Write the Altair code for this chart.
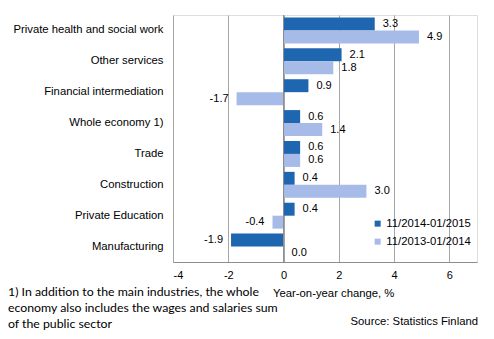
import altair as alt
import pandas as pd

categories = ["Private health and social work", "Other services", "Financial intermediation",
              "Whole economy 1)", "Trade", "Construction", "Private Education", "Manufacturing"]
series = ["11/2014-01/2015", "11/2013-01/2014"]
values_2015 = [3.3, 2.1, 0.9, 0.6, 0.6, 0.4, 0.4, -1.9]
values_2014 = [4.9, 1.8, -1.7, 1.4, 0.6, 3.0, -0.4, 0.0]
colors = ["#1f66b0", "#a7bbe8"]
x_ticks = [-4, -2, 0, 2, 4, 6]

rows = []
for c, v in zip(categories, values_2015):
    rows.append({"cat": c, "series": series[0], "value": v, "label": f"{v:.1f}"})
for c, v in zip(categories, values_2014):
    rows.append({"cat": c, "series": series[1], "value": v, "label": f"{v:.1f}"})
df = pd.DataFrame(rows)

W, H = 304, 247
LEFT, TOP = 173, 15

ysc = alt.Y("cat:N", sort=categories, title=None,
            scale=alt.Scale(paddingInner=0.16, paddingOuter=0.08),
            axis=alt.Axis(domain=False, ticks=False, labelPadding=10, labelFontSize=11.3,
                          labelColor="#000000", labelFont="Liberation Sans", labelLimit=200))
yoff = alt.YOffset("series:N", sort=series, scale=alt.Scale(paddingInner=0, paddingOuter=0))
xsc = alt.X("value:Q", title=None,
            scale=alt.Scale(domain=[-4, 7], nice=False),
            axis=alt.Axis(values=x_ticks, labelExpr="datum.value + ''", grid=True,
                          gridColor="#a6a6a6", domainColor="#8c8c8c", tickSize=0,
                          labelPadding=7, labelFontSize=11, labelColor="#000000",
                          labelFont="Liberation Sans"))

base = alt.Chart(df)

bars = base.mark_bar().encode(
    x=xsc, y=ysc, yOffset=yoff,
    color=alt.Color("series:N", sort=series,
                    scale=alt.Scale(domain=series, range=colors),
                    legend=alt.Legend(title=None, orient="none", legendX=199, legendY=203,
                                      symbolType="square", symbolSize=36, labelFontSize=11.3,
                                      labelFont="Liberation Sans", labelColor="#000000",
                                      rowPadding=6, symbolStrokeWidth=0, labelOffset=3)),
)

pos_labels = base.transform_filter("datum.value >= 0").mark_text(
    align="left", dx=8, fontSize=11, font="Liberation Sans", color="#000000"
).encode(x="value:Q", y=alt.Y("cat:N", sort=categories), yOffset=yoff, text="label:N")

neg_labels = base.transform_filter("datum.value < 0").mark_text(
    align="right", dx=-8, fontSize=11, font="Liberation Sans", color="#000000"
).encode(x="value:Q", y=alt.Y("cat:N", sort=categories), yOffset=yoff, text="label:N")

zero_rule = alt.Chart(pd.DataFrame({"z": [0]})).mark_rule(color="#8c8c8c").encode(
    x="z:Q", y=alt.value(0), y2=alt.value(H))

footnote = "1) In addition to the  main industries, the whole\neconomy also includes the wages and salaries sum\nof the public sector"
foot = alt.Chart(pd.DataFrame({"t": [footnote]})).mark_text(
    align="left", baseline="top", lineBreak="\n", lineHeight=16, fontSize=12.3,
    font="Lato", color="#000000"
).encode(x=alt.value(8 - LEFT), y=alt.value(286 - TOP), text="t:N")

xtitle = alt.Chart(pd.DataFrame({"t": ["Year-on-year change,  %"]})).mark_text(
    align="left", baseline="middle", fontSize=11.3, font="Liberation Sans", color="#000000"
).encode(x=alt.value(273 - LEFT), y=alt.value(294 - TOP), text="t:N")

source = alt.Chart(pd.DataFrame({"t": ["Source:  Statistics  Finland"]})).mark_text(
    align="right", baseline="middle", fontSize=11.3, font="Liberation Sans", color="#000000"
).encode(x=alt.value(478 - LEFT), y=alt.value(322 - TOP), text="t:N")

chart = alt.layer(bars, zero_rule, pos_labels, neg_labels, foot, xtitle, source).properties(
    width=W, height=H,
    autosize=alt.AutoSizeParams(type="none"),
    padding={"left": LEFT, "top": TOP, "right": 494 - LEFT - W, "bottom": 339 - TOP - H},
).configure_view(stroke=None).configure(background="#ffffff")

chart.save("out.html", embed_options={"renderer": "svg", "actions": False})
